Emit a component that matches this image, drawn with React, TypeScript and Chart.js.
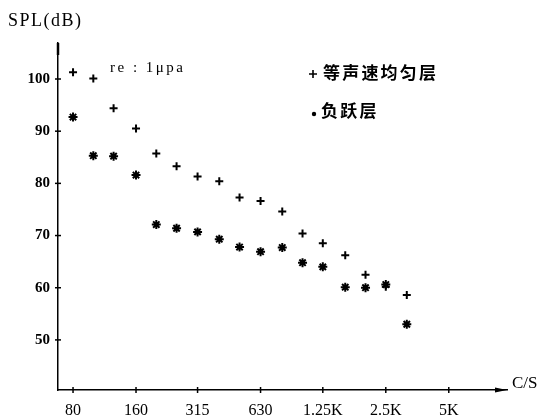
import React, { useEffect, useRef } from "react";
import { Chart, registerables } from "chart.js";

Chart.register(...registerables);

const frequencies = [80, 100, 125, 160, 200, 250, 315, 400, 500, 630, 800, 1000, 1250, 1600, 2000, 2500, 3150];
const uniformLayer = [101.3, 100.1, 94.4, 90.5, 85.7, 83.3, 81.3, 80.4, 77.3, 76.6, 74.6, 70.4, 68.5, 66.2, 62.5, 60.2, 58.6];
const negativeGradient = [92.7, 85.3, 85.2, 81.6, 72.1, 71.4, 70.7, 69.3, 67.8, 66.9, 67.7, 64.8, 64.0, 60.1, 60.0, 60.6, 53.0];
const seriesLabels = ["等声速均匀层", "负跃层"];
const xTicks = [80, 160, 315, 630, 1250, 2500, 5000];
const xTickLabels = ["80", "160", "315", "630", "1.25K", "2.5K", "5K"];
const yTicks = [50, 60, 70, 80, 90, 100];

const SERIF = "'Liberation Serif', 'DejaVu Serif', serif";
const CJK = "'Noto Sans CJK SC', sans-serif";

const decorPlugin = {
  id: "decor",
  afterDraw(chart: any) {
    const ctx = chart.ctx as CanvasRenderingContext2D;
    const { left, right, top, bottom } = chart.chartArea;
    const xs = chart.scales.x;
    const ys = chart.scales.y;
    ctx.save();
    ctx.strokeStyle = "#000";
    ctx.fillStyle = "#000";
    ctx.lineWidth = 1.5;
    // tick crosses
    yTicks.forEach((v) => {
      const py = ys.getPixelForValue(v);
      ctx.beginPath();
      ctx.moveTo(left - 3, py);
      ctx.lineTo(left + 3, py);
      ctx.stroke();
    });
    xTicks.forEach((v) => {
      const px = xs.getPixelForValue(v);
      ctx.beginPath();
      ctx.moveTo(px, bottom - 3);
      ctx.lineTo(px, bottom + 3);
      ctx.stroke();
    });
    // y arrow top
    ctx.lineWidth = 2.5;
    ctx.beginPath();
    ctx.moveTo(left, top);
    ctx.lineTo(left, top + 12);
    ctx.stroke();
    // x arrow right
    ctx.beginPath();
    ctx.moveTo(right, bottom);
    ctx.lineTo(right - 12, bottom - 2.5);
    ctx.lineTo(right - 12, bottom + 2.5);
    ctx.closePath();
    ctx.fill();
    // texts
    ctx.textBaseline = "middle";
    ctx.textAlign = "left";
    (ctx as any).letterSpacing = "1.5px";
    ctx.font = `18px ${SERIF}`;
    ctx.fillText("SPL(dB)", 8, 21);
    (ctx as any).letterSpacing = "2.5px";
    ctx.font = `15px ${SERIF}`;
    ctx.fillText("re : 1\u03bcpa", 110, 68);
    (ctx as any).letterSpacing = "0px";
    ctx.font = `17px ${SERIF}`;
    ctx.fillText("C/S", right + 5, bottom - 6);
    // legend
    ctx.lineWidth = 1.6;
    const lx = 313;
    const ly1 = 74;
    ctx.beginPath();
    ctx.moveTo(lx - 4, ly1);
    ctx.lineTo(lx + 4, ly1);
    ctx.moveTo(lx, ly1 - 4);
    ctx.lineTo(lx, ly1 + 4);
    ctx.stroke();
    const ly2 = 114;
    ctx.beginPath();
    ctx.arc(lx + 1, ly2, 2.2, 0, Math.PI * 2);
    ctx.fill();
    ctx.font = `bold 17px ${CJK}`;
    (ctx as any).letterSpacing = "2.2px";
    ctx.fillText(chart.data.datasets[0].label, 323, ly1 - 1);
    ctx.fillText(chart.data.datasets[1].label, 321, ly2 - 3);
    ctx.restore();
  },
};

export default function App() {
  const ref = useRef<HTMLCanvasElement>(null);
  useEffect(() => {
    if (!ref.current) return;
    const chart = new Chart(ref.current, {
      type: "scatter",
      data: {
        datasets: [
          {
            label: seriesLabels[0],
            data: frequencies.map((f, i) => ({ x: f, y: uniformLayer[i] })),
            pointStyle: "cross",
            pointRadius: 4,
            borderWidth: 2,
            borderColor: "#000",
            backgroundColor: "#000",
          },
          {
            label: seriesLabels[1],
            data: frequencies.map((f, i) => ({ x: f, y: negativeGradient[i] })),
            pointStyle: "star",
            pointRadius: 4.5,
            borderWidth: 2,
            borderColor: "#000",
            backgroundColor: "#000",
          },
        ],
      },
      options: {
        responsive: false,
        animation: false,
        layout: { padding: { top: 43, right: 41, left: 0, bottom: 0 } },
        plugins: { legend: { display: false }, tooltip: { enabled: false }, title: { display: false } },
        scales: {
          x: {
            type: "logarithmic",
            min: 67.8,
            max: 9490,
            afterBuildTicks: (s: any) => {
              s.ticks = xTicks.map((v) => ({ value: v }));
            },
            afterFit: (s: any) => {
              s.height = 28;
            },
            grid: { display: false, drawTicks: false },
            border: { display: true, color: "#000", width: 1.5 },
            ticks: {
              padding: 11,
              color: "#000",
              font: { family: SERIF, size: 16 },
              maxRotation: 0,
              autoSkip: false,
              callback: (v: any) => {
                const i = xTicks.indexOf(Number(v));
                return i >= 0 ? xTickLabels[i] : "";
              },
            },
          },
          y: {
            type: "linear",
            min: 40.4,
            max: 106.9,
            afterBuildTicks: (s: any) => {
              s.ticks = yTicks.map((v) => ({ value: v }));
            },
            afterFit: (s: any) => {
              s.width = 58;
            },
            grid: { display: false, drawTicks: false },
            border: { display: true, color: "#000", width: 1.5 },
            ticks: {
              padding: 8,
              color: "#000",
              font: { family: SERIF, size: 15, weight: "bold" },
              callback: (v: any) => String(v),
            },
          },
        },
      },
      plugins: [decorPlugin],
    } as any);
    return () => chart.destroy();
  }, []);
  return (
    <canvas
      ref={ref}
      width={548}
      height={418}
      style={{ position: "absolute", left: 0, top: 0, background: "#fff" }}
    />
  );
}
